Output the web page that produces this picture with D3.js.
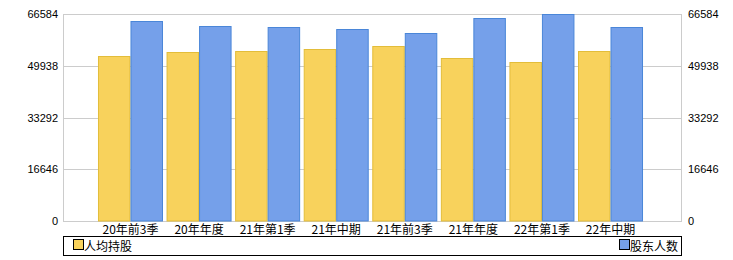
<!DOCTYPE html>
<html>
<head>
<meta charset="utf-8">
<script src="https://cdn.jsdelivr.net/npm/d3@7"></script>
<style>
  body { margin: 0; background: #fff; }
  svg text { font-family: "Liberation Sans", Arial, sans-serif; fill: #000; }
  .cjk { font-family: "Noto Sans CJK SC", sans-serif; }
</style>
</head>
<body>
<script>
const width = 733,
  height = 260,
  plotLeft = 63,
  plotRight = 682,
  plotTop = 14,
  plotBottom = 221;

const categories = ["20年前3季", "20年年度", "21年第1季", "21年中期", "21年前3季", "21年年度", "22年第1季", "22年中期"];
const perHolding = [52985, 54270, 54591, 55236, 56200, 52341, 51150, 54590];
const holders = [64240, 62634, 62312, 61669, 60383, 65210, 66500, 62312];
const yTicks = [0, 16646, 33292, 49938, 66584];

const seriesNames = ["人均持股", "股东人数"];
const fills = ["#f8d25c", "#75a0ea"];
const strokes = ["#e3bd3a", "#4a86d8"];

const svg = d3.select("body").append("svg")
  .attr("width", width)
  .attr("height", height);

const x = d3.scaleBand()
  .domain(categories)
  .range([96.2, 644.8])
  .paddingInner(0.052)
  .paddingOuter(0.026);

const xSub = d3.scaleBand()
  .domain([0, 1])
  .range([0, x.bandwidth()]);

const y = d3.scaleLinear()
  .domain([0, 66584])
  .range([plotBottom, plotTop]);

// grid lines
svg.append("g")
  .selectAll("line")
  .data(yTicks)
  .join("line")
  .attr("x1", plotLeft)
  .attr("x2", plotRight)
  .attr("y1", d => Math.round(y(d)) + 0.5)
  .attr("y2", d => Math.round(y(d)) + 0.5)
  .attr("stroke", "#cccccc");

// side borders
svg.append("line")
  .attr("x1", plotLeft + 0.5).attr("x2", plotLeft + 0.5)
  .attr("y1", plotTop).attr("y2", plotBottom + 1)
  .attr("stroke", "#cccccc");
svg.append("line")
  .attr("x1", plotRight - 0.5).attr("x2", plotRight - 0.5)
  .attr("y1", plotTop).attr("y2", plotBottom + 1)
  .attr("stroke", "#cccccc");

// left axis
const yAxisLeft = svg.append("g")
  .attr("transform", `translate(${plotLeft},0)`)
  .call(d3.axisLeft(y).tickValues(yTicks).tickSize(0).tickPadding(5).tickFormat(d3.format("d")));
yAxisLeft.select(".domain").remove();
yAxisLeft.selectAll("text").attr("font-size", 11).attr("font-family", null);

// right axis
const yAxisRight = svg.append("g")
  .attr("transform", `translate(${plotRight},0)`)
  .call(d3.axisRight(y).tickValues(yTicks).tickSize(0).tickPadding(6).tickFormat(d3.format("d")));
yAxisRight.select(".domain").remove();
yAxisRight.selectAll("text").attr("font-size", 11).attr("font-family", null);

// bars
const series = [perHolding, holders];
const groups = svg.append("g")
  .selectAll("g")
  .data(categories)
  .join("g")
  .attr("transform", d => `translate(${x(d)},0)`);

groups.selectAll("rect")
  .data((d, i) => series.map((s, k) => ({ k, v: s[i] })))
  .join("rect")
  .attr("x", d => xSub(d.k) + 0.5)
  .attr("y", d => Math.round(y(d.v)) + 0.5)
  .attr("width", xSub.bandwidth() - 1)
  .attr("height", d => plotBottom - Math.round(y(d.v)) - 0.5)
  .attr("fill", d => fills[d.k])
  .attr("stroke", d => strokes[d.k]);

// x labels
svg.append("g")
  .selectAll("text")
  .data(categories)
  .join("text")
  .attr("class", "cjk")
  .attr("x", d => x(d) + x.bandwidth() / 2)
  .attr("y", 234)
  .attr("text-anchor", "middle")
  .attr("font-size", 12)
  .text(d => d);

// legend
svg.append("rect")
  .attr("x", plotLeft + 0.5)
  .attr("y", 236.5)
  .attr("width", plotRight - plotLeft - 1)
  .attr("height", 19)
  .attr("fill", "none")
  .attr("stroke", "#000");

const legendX = [73, 619];
const legend = svg.append("g")
  .selectAll("g")
  .data(seriesNames)
  .join("g")
  .attr("transform", (d, i) => `translate(${legendX[i]},0)`);

legend.append("rect")
  .attr("x", 0.5)
  .attr("y", 239.5)
  .attr("width", 10)
  .attr("height", 10)
  .attr("fill", (d, i) => fills[i])
  .attr("stroke", "#000");

legend.append("text")
  .attr("class", "cjk")
  .attr("x", 11)
  .attr("y", 251)
  .attr("font-size", 12)
  .text(d => d);
</script>
</body>
</html>
